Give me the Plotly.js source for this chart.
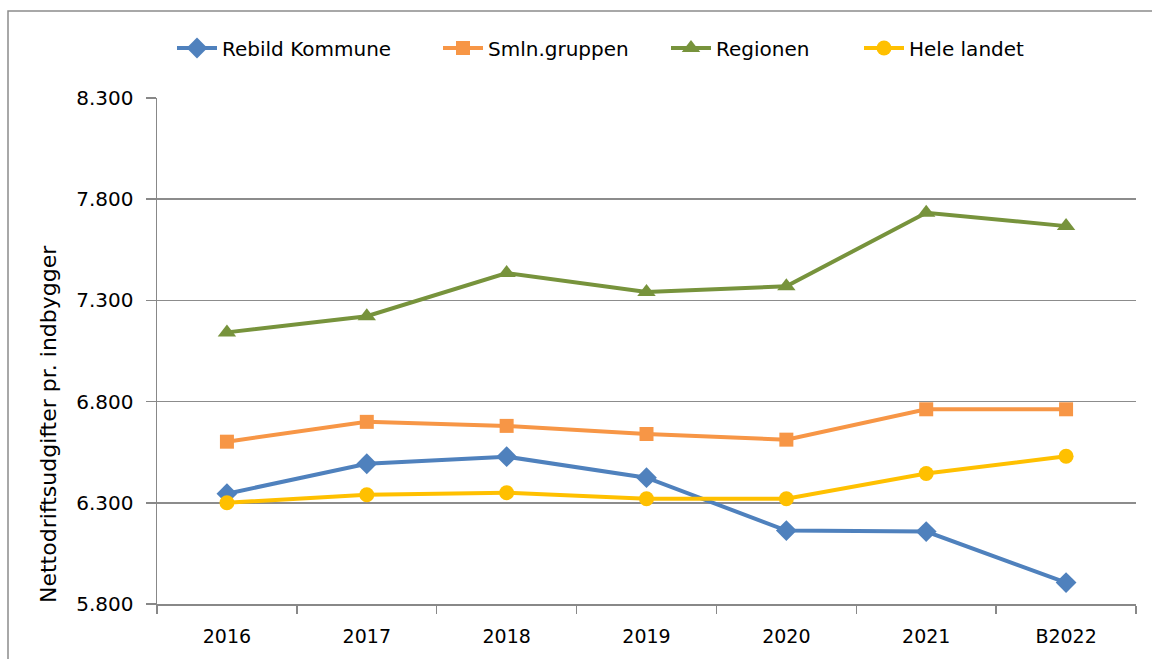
<!DOCTYPE html>
<html>
<head>
<meta charset="utf-8">
<script src="https://cdn.plot.ly/plotly-3.0.1.min.js"></script>
<style>
  html, body { margin: 0; padding: 0; background: #ffffff; }
  #chart { width: 1152px; height: 659px; }
</style>
</head>
<body>
<div id="chart"></div>
<script>
const categories = ["2016", "2017", "2018", "2019", "2020", "2021", "B2022"];
const rebild = [6345, 6493, 6528, 6424, 6163, 6158, 5906];
const smln = [6602, 6700, 6680, 6640, 6612, 6762, 6762];
const regionen = [7142, 7222, 7435, 7342, 7370, 7733, 7667];
const heleLandet = [6300, 6340, 6350, 6320, 6320, 6445, 6530];
const seriesNames = ["Rebild Kommune", "Smln.gruppen", "Regionen", "Hele landet"];
const yTitle = "Nettodriftsudgifter pr. indbygger";

const FONT = "DejaVu Sans, Verdana, sans-serif";
const W = 1152, H = 659;
const M = { l: 157, r: 16, t: 98, b: 55 };
const pw = W - M.l - M.r, ph = H - M.t - M.b;
const px = x => (x - M.l) / pw;
const py = y => (H - M.b - y) / ph;

function tr(name, y, color, symbol, size, legend) {
  return {
    type: "scatter", mode: "lines+markers", name: name,
    x: categories, y: y,
    line: { color: color, width: 4 },
    marker: { color: color, symbol: symbol, size: size },
    legend: legend
  };
}

const data = [
  tr(seriesNames[0], rebild, "#4F81BD", "diamond", 16, "legend"),
  tr(seriesNames[1], smln, "#F79646", "square", 14, "legend2"),
  tr(seriesNames[2], regionen, "#77933C", "triangle-up", 16, "legend3"),
  tr(seriesNames[3], heleLandet, "#FFC000", "circle", 15, "legend4")
];

function leg(xPix) {
  return {
    x: px(xPix), xanchor: "left", y: py(48), yanchor: "middle",
    orientation: "h", bgcolor: "rgba(0,0,0,0)",
    font: { family: FONT, size: 20, color: "#000000" },
    itemwidth: 40
  };
}

const layout = {
  width: W, height: H,
  margin: M,
  paper_bgcolor: "#ffffff", plot_bgcolor: "#ffffff",
  separators: ",.",
  font: { family: FONT, size: 20, color: "#000000" },
  showlegend: true,
  legend: leg(172),
  legend2: leg(438),
  legend3: leg(666),
  legend4: leg(859),
  xaxis: {
    type: "category",
    range: [-0.5, 6.5],
    showline: true, linecolor: "#888888", linewidth: 1.5,
    ticks: "outside", tickson: "boundaries", ticklen: 8, tickcolor: "#888888", tickwidth: 1.5,
    showgrid: false, zeroline: false,
    tickfont: { family: FONT, size: 19, color: "#000000" },
    ticklabelstandoff: 15
  },
  yaxis: {
    range: [5800, 8300],
    tick0: 5800, dtick: 500,
    tickformat: ",.0f",
    showline: true, linecolor: "#888888", linewidth: 1.5,
    ticks: "outside", ticklen: 10, tickcolor: "#888888", tickwidth: 1.5,
    showgrid: true, gridcolor: "#8c8c8c", gridwidth: 1.5,
    zeroline: false,
    tickfont: { family: FONT, size: 20, color: "#000000" },
    ticklabelstandoff: 8
  },
  shapes: [{
    type: "rect", xref: "paper", yref: "paper",
    x0: px(8), x1: px(1170), y0: py(690), y1: py(11),
    line: { color: "#8c8c8c", width: 1.5 }, fillcolor: "rgba(0,0,0,0)", layer: "below"
  }],
  annotations: [{
    text: yTitle, xref: "paper", yref: "paper",
    x: px(48), y: py(424), xanchor: "center", yanchor: "middle",
    textangle: -90, showarrow: false,
    font: { family: FONT, size: 22, color: "#000000" }
  }]
};

Plotly.newPlot("chart", data, layout, { displayModeBar: false, staticPlot: true });
</script>
</body>
</html>
